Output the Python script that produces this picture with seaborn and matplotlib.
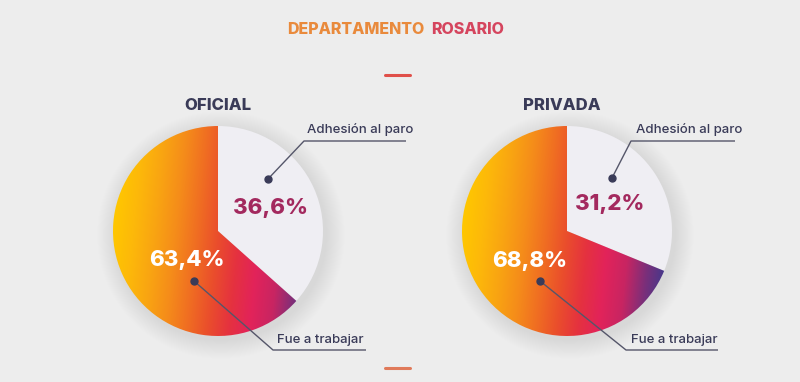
# ============================================================
#  Paro docente - Departamento Rosario (oficial vs privada)
# ============================================================
import numpy as np
import matplotlib.pyplot as plt
from matplotlib.patches import Circle
import seaborn as sns

# ── DATA ─────────────────────────────────────────────────────
categories = ["Adhesión al paro", "Fue a trabajar"]
groups = ["OFICIAL", "PRIVADA"]
oficial = [36.6, 63.4]
privada = [31.2, 68.8]
title = ["DEPARTAMENTO", "ROSARIO"]

# ── STYLE ────────────────────────────────────────────────────
sns.set_theme(style="white")
plt.rcParams["font.family"] = ["Inter", "DejaVu Sans"]

BG = "#EDEDED"
LIGHT = "#EFEEF3"
NAVY = "#3A3B58"
PLUM = "#A3295E"
grad_cmap = sns.blend_palette(
    ["#FFC700", "#FDB80A", "#F9A412", "#F58C1A", "#F06E22", "#EA4E2C",
     "#E5323F", "#E2235A", "#C82562", "#7A2F7A", "#3D3A8E"], as_cmap=True)

# layout in pixel units (y grows downward)
W, H = 800, 382
R = 105
layout = {
    "OFICIAL": dict(c=(218, 231), head=(218, 106),
                    pct=[(271, 208), (187, 260)],
                    dot=[(268, 179), (194, 281)],
                    elbow=[(304, 141), (273, 350)],
                    line_end=[406, 366],
                    txt=[(307, 130), (277, 340)]),
    "PRIVADA": dict(c=(567, 231), head=(562, 106),
                    pct=[(610, 204), (530, 261)],
                    dot=[(612, 178), (540, 281)],
                    elbow=[(631, 141), (626, 350)],
                    line_end=[735, 718],
                    txt=[(636, 130), (631, 340)]),
}
values = {"OFICIAL": oficial, "PRIVADA": privada}


def fmt(v):
    return f"{v:.1f}%".replace(".", ",")


def gradient_fill(ax, wedge, cx, cy, r, angle=6):
    n = 400
    xs = np.linspace(-1, 1, n)
    X, Y = np.meshgrid(xs, xs)
    a = np.deg2rad(angle)
    t = ((X * np.cos(a) + Y * np.sin(a)) + 1) / 2
    im = ax.imshow(t, cmap=grad_cmap, vmin=0, vmax=1,
                   extent=(cx - r, cx + r, cy + r, cy - r), origin="upper",
                   interpolation="bilinear", zorder=3)
    im.set_clip_path(wedge)


# ── FIGURE ───────────────────────────────────────────────────
fig = plt.figure(figsize=(8, 3.82), dpi=100, facecolor=BG)
ax = fig.add_axes([0, 0, 1, 1])
ax.set_facecolor(BG)

for g in groups:
    L = layout[g]
    cx, cy = L["c"]

    # soft shadow
    for k in range(1, 22):
        ax.add_patch(Circle((cx + 3, cy + 4), R + k * 0.9, color="#000000",
                            alpha=0.0045, lw=0, zorder=1))

    wedges, _ = ax.pie(values[g], center=(cx, cy), radius=R,
                       startangle=-90, counterclock=True,
                       colors=[LIGHT, "none"],
                       wedgeprops=dict(linewidth=0, zorder=2))
    gradient_fill(ax, wedges[1], cx, cy, R)

    ax.text(*L["head"], g, ha="center", va="center", fontsize=12,
            fontweight="heavy", color=NAVY, zorder=5)

    for i, v in enumerate(values[g]):
        ax.text(*L["pct"][i], fmt(v), ha="center", va="center", fontsize=16,
                fontweight="heavy", color=PLUM if i == 0 else "white", zorder=6)
        dx, dy = L["dot"][i]
        ex, ey = L["elbow"][i]
        ax.plot([dx, ex, L["line_end"][i]], [dy, ey, ey], color="#55566A",
                lw=1, zorder=6, solid_capstyle="butt")
        ax.plot(dx, dy, "o", ms=5, color=NAVY, zorder=7)
        ax.text(*L["txt"][i], categories[i], ha="left", va="center",
                fontsize=9.5, fontweight="medium", color=NAVY, zorder=6)

# ── TITLE + DASHES ───────────────────────────────────────────
ax.text(424, 29, title[0], ha="right", va="center", fontsize=11.5,
        fontweight="heavy", color="#E98A3C")
ax.text(431, 29, title[1], ha="left", va="center", fontsize=11.5,
        fontweight="heavy", color="#D5455E")
ax.plot([385, 410], [75, 75], color="#E0504A", lw=2.2)
ax.plot([385, 410], [368, 368], color="#E07A5A", lw=2.2)

ax.set_xlim(0, W)
ax.set_ylim(H, 0)
ax.set_aspect("equal")
ax.axis("off")

plt.savefig("out.png", dpi=100, facecolor=BG)
